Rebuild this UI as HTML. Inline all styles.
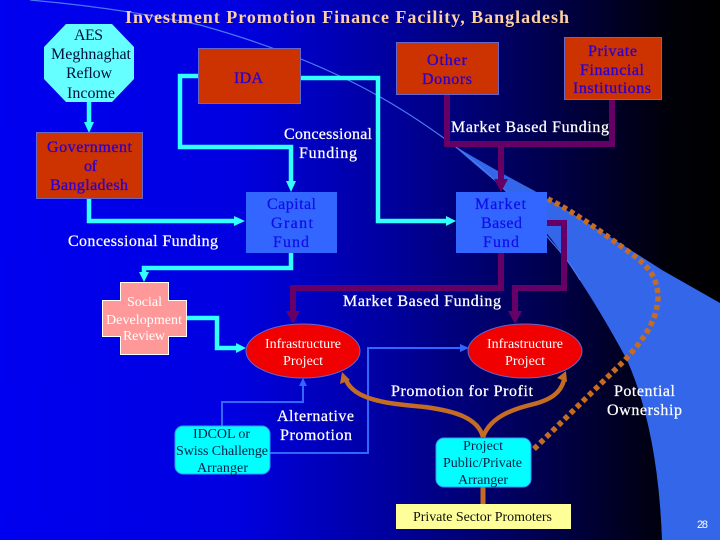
<!DOCTYPE html>
<html><head><meta charset="utf-8"><style>
html,body{margin:0;padding:0;background:#000}
svg{display:block}
text{font-family:"Liberation Serif",serif;text-anchor:start}
.w{fill:#fff;font-size:16px;stroke:#fff;stroke-width:.25}
.b{fill:#2a00d0;font-size:16px;stroke:#2a00d0;stroke-width:.3}
.c{fill:#0f0fe8;font-size:16px;stroke:#0f0fe8;stroke-width:.25}
.k{fill:#001040;font-size:16px}
.s{fill:#00204a;font-size:14px}
.p{fill:#fff;font-size:14px}
</style></head><body>
<svg width="720" height="540" viewBox="0 0 720 540" xmlns="http://www.w3.org/2000/svg">
<defs>
<linearGradient id="bg" x1="0" x2="1" y1="0" y2="0">
<stop offset="0" stop-color="#0000f0"/><stop offset=".33" stop-color="#0000e0"/><stop offset=".55" stop-color="#00009a"/><stop offset=".75" stop-color="#000050"/><stop offset=".93" stop-color="#000008"/><stop offset="1" stop-color="#000"/>
</linearGradient>
</defs>
<rect width="720" height="540" fill="url(#bg)"/>
<path d="M453 145 Q495 170 533 190 Q600 230 662 270 L720 303 L720 540 L662 540 Q658 430 627 360 Q600 310 573 270 Q545 225 500 185 Q475 165 453 145Z" fill="#3366e8"/>
<path d="M30 0 Q120 8 200 25 Q290 50 360 86 Q410 112 460 150 Q510 190 550 240 Q570 262 580 280" fill="none" stroke="#4a78f0" stroke-width="1.2"/>

<!-- blue thin connectors -->
<g fill="none" stroke="#3366ff" stroke-width="2">
<path d="M222 426V402H303V384"/>
<path d="M270 453H368V348H462"/>
</g>
<path d="M303 378l-4 8h8z" fill="#3366ff"/>
<path d="M469 348l-9-4v8z" fill="#3366ff"/>

<!-- cyan connectors -->
<g fill="none" stroke="#33ffff" stroke-width="4.500">
<path d="M89 102V124"/>
<path d="M198 76H180V147H291V182"/>
<path d="M300 78H378V221H448"/>
<path d="M89 198V221H236"/>
<path d="M291 252V268H144V274"/>
<path d="M186 318H217V348H238"/>
</g>
<g fill="#33ffff">
<path d="M89 133l-5-11h10z"/>
<path d="M291 192l-5-11h10z"/>
<path d="M456 221l-10-5v10z"/>
<path d="M245 221l-11-5v10z"/>
<path d="M144 282l-5-10h10z"/>
<path d="M246 348l-10-5v10z"/>
</g>

<!-- purple connectors -->
<g fill="none" stroke="#660066" stroke-width="6">
<path d="M447 94V144H612V99"/>
<path d="M501 144V180"/>
<path d="M547 223H564V288H515V312"/>
<path d="M501 252V288H293V312"/>
</g>
<g fill="#660066">
<path d="M501 192l-7-13h14z"/>
<path d="M515 324l-7-13h14z"/>
<path d="M293 324l-7-13h14z"/>
</g>

<!-- orange -->
<g fill="none" stroke="#c46c24">
<path d="M483 437C478 418 455 411 425 407C395 404 355 402 346 380" stroke-width="4.500"/>
<path d="M483 437C490 418 510 410 530 405C552 400 561 392 564 380" stroke-width="4.500"/>
<path d="M483 487V504" stroke-width="5"/>
<path d="M534 449L625 360C645 338 657 320 658 298C658 280 650 268 637 258C610 238 575 212 548 199" stroke-width="5.500" stroke-dasharray="5 3.500"/>
</g>
<path d="M342 372l-2 12 10-4z" fill="#c46c24"/>
<path d="M566 371l-9 7 10 4z" fill="#c46c24"/>

<!-- shapes -->
<polygon points="66,24 112,24 134,47 134,79 112,102 66,102 44,79 44,47" fill="#66ffff"/>
<g fill="#cc3300" stroke="#6666cc" stroke-width="1">
<rect x="198.500" y="48.500" width="102" height="55"/>
<rect x="36.500" y="132.500" width="106" height="66"/>
<rect x="396.500" y="42.500" width="102" height="52"/>
<rect x="564.500" y="37.500" width="97" height="62"/>
</g>
<rect x="246" y="192" width="91" height="61" fill="#3366ff"/>
<rect x="456" y="192" width="91" height="61" fill="#3366ff"/>
<polygon points="120.500,282.500 168.500,282.500 168.500,300.500 186.500,300.500 186.500,336.500 168.500,336.500 168.500,354.500 120.500,354.500 120.500,336.500 102.500,336.500 102.500,300.500 120.500,300.500" fill="#ff9999" stroke="#fff" stroke-width="1"/>
<ellipse cx="303" cy="351" rx="57" ry="27" fill="#f00000" stroke="#6666cc" stroke-width="1"/>
<ellipse cx="525" cy="351" rx="57" ry="27" fill="#f00000" stroke="#6666cc" stroke-width="1"/>
<rect x="175" y="426" width="95" height="48" rx="8" fill="#00ffff" stroke="#3399ff" stroke-width="1"/>
<rect x="436" y="438" width="95" height="49" rx="8" fill="#00ffff" stroke="#3399ff" stroke-width="1"/>
<rect x="396" y="504" width="175" height="25" fill="#ffff99"/>

<!-- text -->
<text x="125" y="23" textLength="444" lengthAdjust="spacing" font-size="18" font-weight="bold" fill="#ffd0a0">Investment Promotion Finance Facility, Bangladesh</text>

<text class="k" x="74" y="40" textLength="29">AES</text>
<text class="k" x="51" y="59" textLength="80">Meghnaghat</text>
<text class="k" x="66" y="78" textLength="46">Reflow</text>
<text class="k" x="67" y="98" textLength="48">Income</text>

<text class="b" x="234" y="83" textLength="29">IDA</text>
<text class="b" x="47" y="152" textLength="85">Government</text>
<text class="b" x="84" y="171" textLength="13">of</text>
<text class="b" x="50" y="190" textLength="78">Bangladesh</text>
<text class="b" x="427" y="65" textLength="40">Other</text>
<text class="b" x="422" y="84" textLength="50">Donors</text>
<text class="b" x="588" y="56" textLength="49">Private</text>
<text class="b" x="580" y="75" textLength="64">Financial</text>
<text class="b" x="573" y="93" textLength="78">Institutions</text>

<text class="c" x="267" y="209" textLength="49">Capital</text>
<text class="c" x="271" y="228" textLength="42">Grant</text>
<text class="c" x="273" y="247" textLength="36">Fund</text>
<text class="c" x="475" y="209" textLength="51">Market</text>
<text class="c" x="481" y="228" textLength="41">Based</text>
<text class="c" x="483" y="247" textLength="36">Fund</text>

<text class="w" x="284" y="139" textLength="88">Concessional</text>
<text class="w" x="299" y="158" textLength="58">Funding</text>
<text class="w" x="68" y="246" textLength="150">Concessional Funding</text>
<text class="w" x="451" y="132" textLength="158">Market Based Funding</text>
<text class="w" x="343" y="306" textLength="158">Market Based Funding</text>
<text class="w" x="277" y="421" textLength="77">Alternative</text>
<text class="w" x="280" y="440" textLength="72">Promotion</text>
<text class="w" x="391" y="396" textLength="142">Promotion for Profit</text>
<text class="w" x="614" y="396" textLength="61">Potential</text>
<text class="w" x="607" y="415" textLength="75">Ownership</text>

<text class="p" x="127" y="306" textLength="35">Social</text>
<text class="p" x="106" y="324" textLength="76">Development</text>
<text class="p" x="123" y="340" textLength="42">Review</text>
<text class="p" x="265" y="348" textLength="76">Infrastructure</text>
<text class="p" x="283" y="365" textLength="40">Project</text>
<text class="p" x="487" y="348" textLength="76">Infrastructure</text>
<text class="p" x="505" y="365" textLength="40">Project</text>

<text class="s" x="193" y="438" textLength="57">IDCOL or</text>
<text class="s" x="176" y="455" textLength="92">Swiss Challenge</text>
<text class="s" x="197" y="472" textLength="51">Arranger</text>
<text class="s" x="463" y="450" textLength="40">Project</text>
<text class="s" x="443" y="467" textLength="79">Public/Private</text>
<text class="s" x="458" y="484" textLength="50">Arranger</text>
<text x="413" y="521" textLength="139" font-size="14" fill="#111">Private Sector Promoters</text>
<text x="697" y="528" textLength="11" font-size="11" fill="#fff" style="font-family:'Liberation Sans',sans-serif">28</text>
</svg>
</body></html>
